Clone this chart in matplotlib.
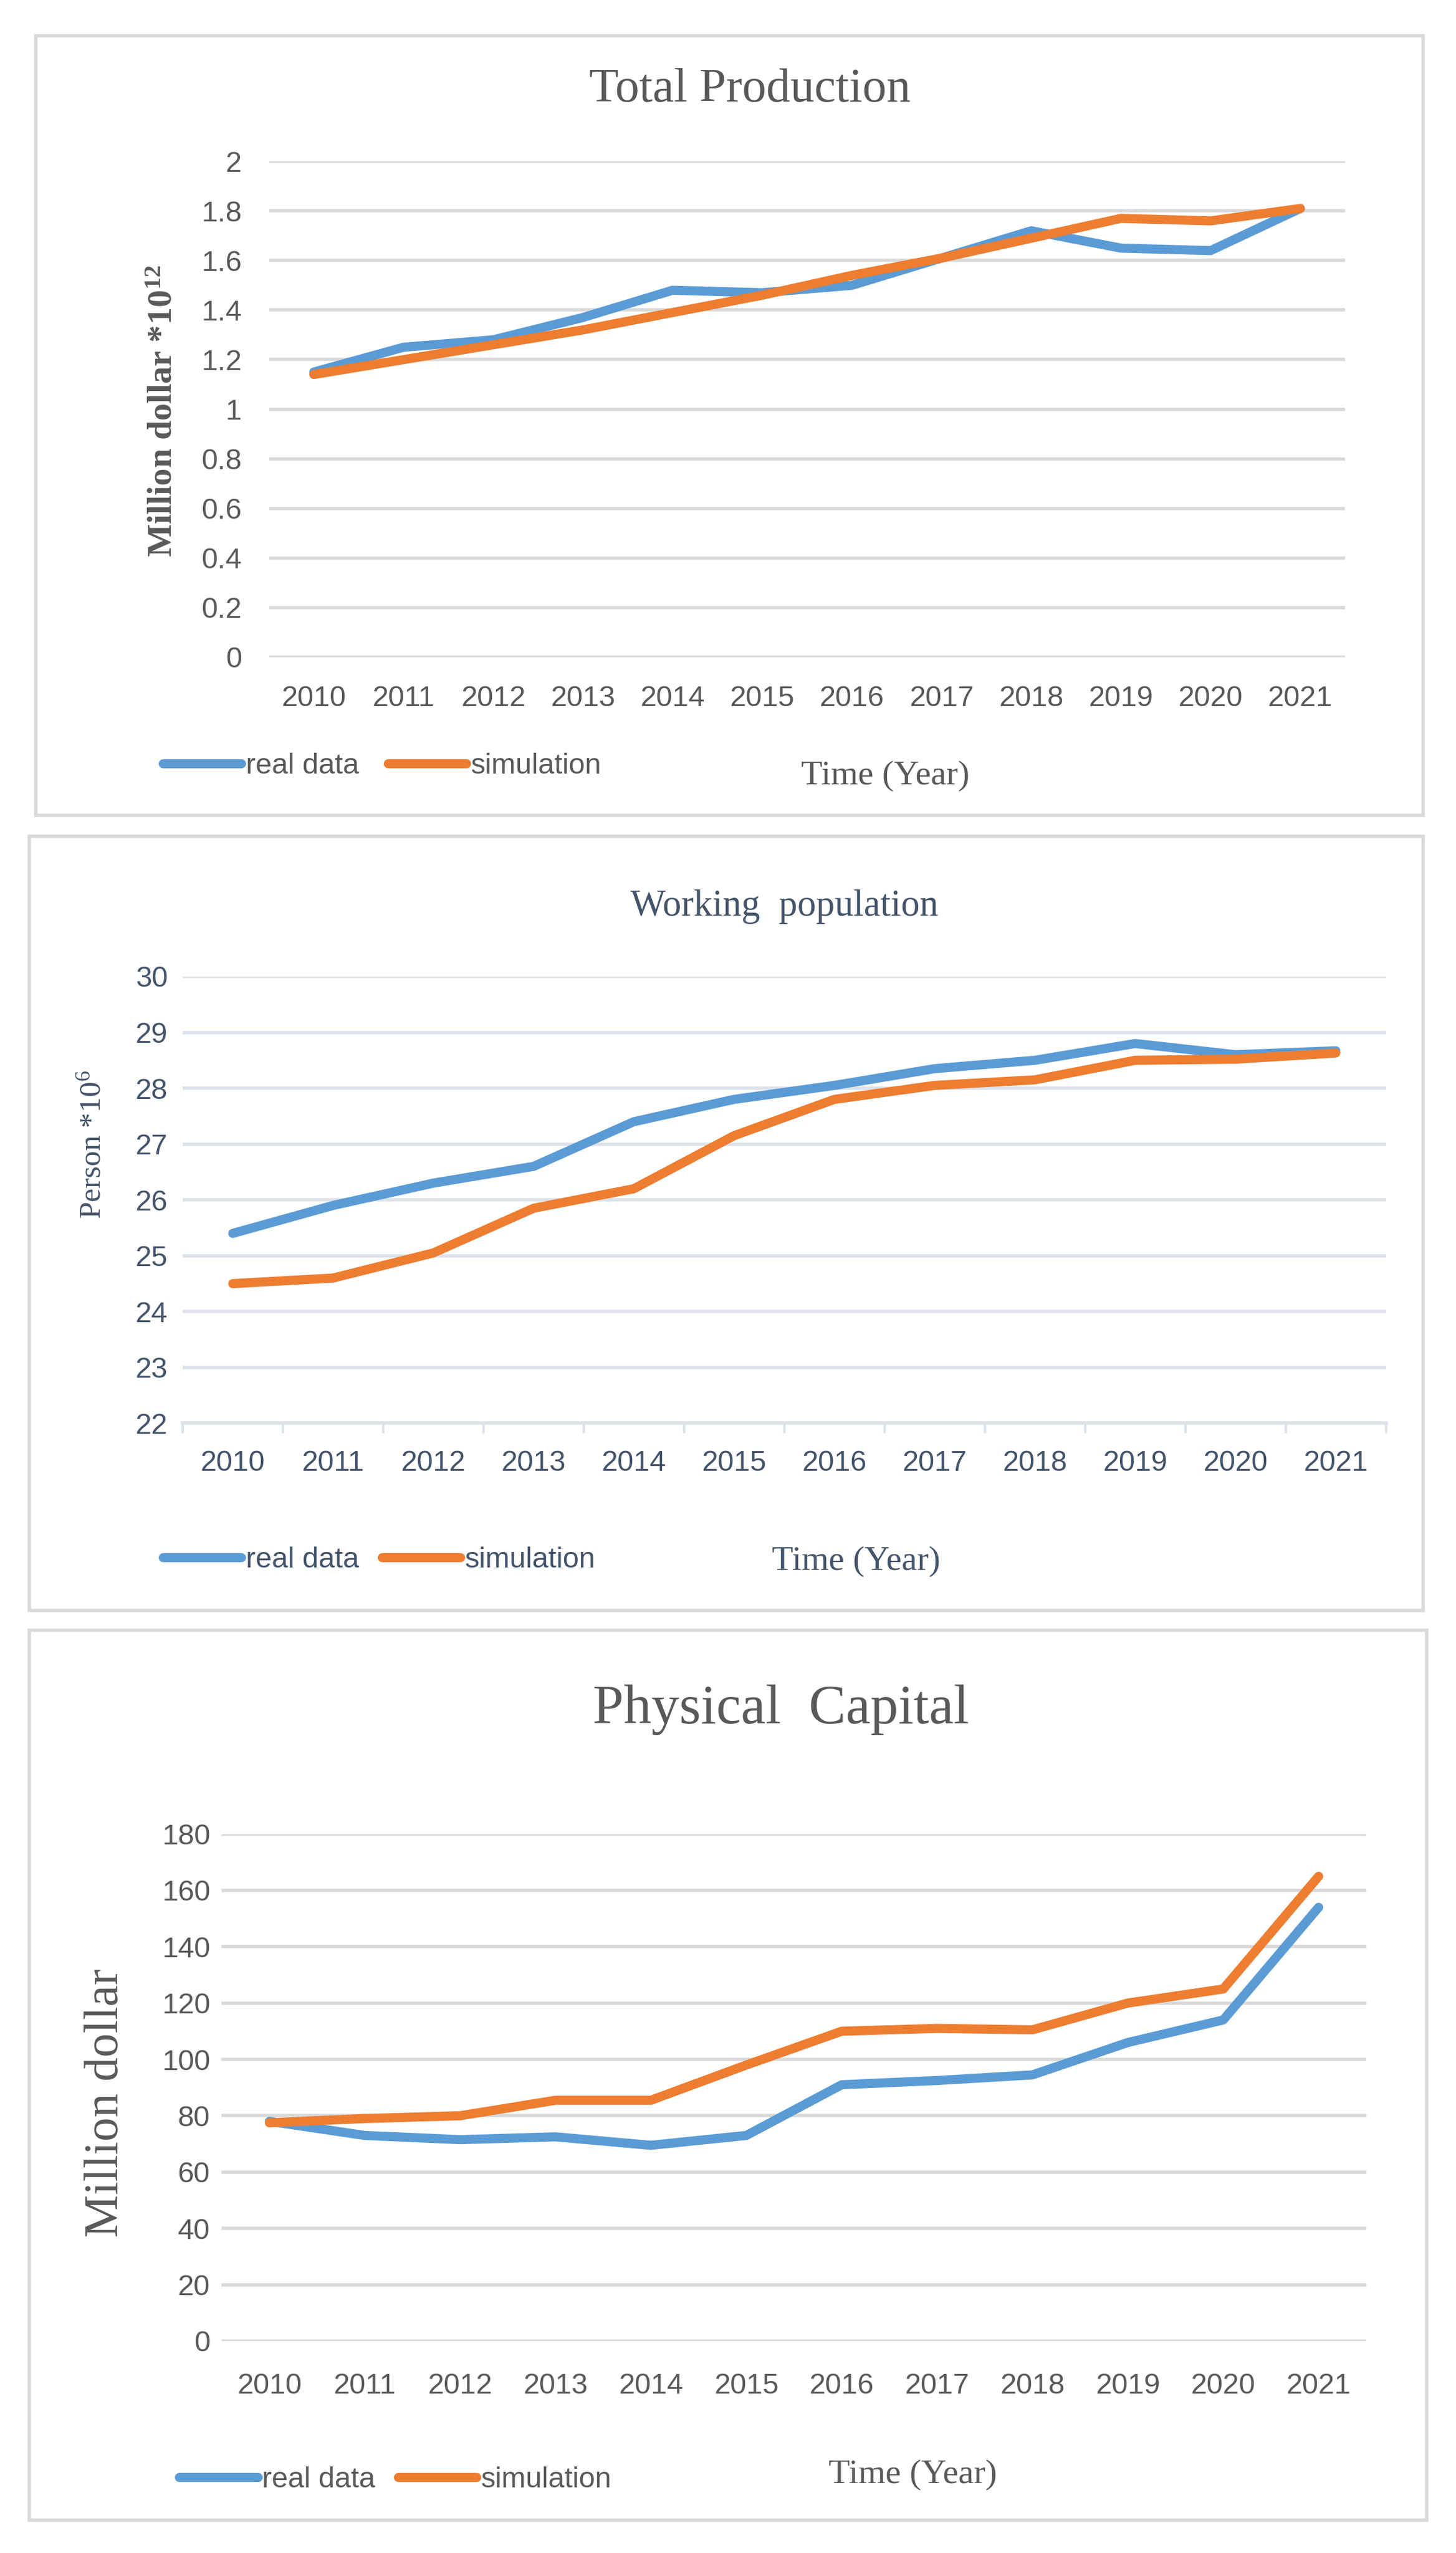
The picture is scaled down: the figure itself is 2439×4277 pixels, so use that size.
import numpy as np
import matplotlib
matplotlib.use('Agg')
from matplotlib import pyplot as plt
from matplotlib.patches import Rectangle

plt.rcParams['mathtext.default'] = 'regular'

years = ['2010', '2011', '2012', '2013', '2014', '2015', '2016', '2017', '2018', '2019', '2020', '2021']

# Total Production (Million dollar *10^12)
prod_real = [1.15, 1.25, 1.28, 1.37, 1.48, 1.47, 1.50, 1.61, 1.72, 1.65, 1.64, 1.81]
prod_sim = [1.14, 1.20, 1.26, 1.32, 1.39, 1.46, 1.54, 1.61, 1.69, 1.77, 1.76, 1.81]

# Working population (Person *10^6)
pop_real = [25.4, 25.9, 26.3, 26.6, 27.4, 27.8, 28.05, 28.35, 28.5, 28.8, 28.6, 28.67]
pop_sim = [24.5, 24.6, 25.05, 25.85, 26.2, 27.15, 27.8, 28.05, 28.15, 28.5, 28.52, 28.63]

# Physical Capital (Million dollar)
cap_real = [78, 73, 71.5, 72.5, 69.5, 73, 91, 92.5, 94.5, 106, 114, 154]
cap_sim = [77.5, 79, 80, 85.5, 85.5, 98, 110, 111, 110.5, 120, 125, 165]

BLUE = '#5B9BD5'
ORANGE = '#ED7D31'
SANS = ['Liberation Sans', 'DejaVu Sans']
SERIF = ['Liberation Serif', 'DejaVu Serif']

W, H = 893.0, 1566.0   # layout measured on a 893 px wide view of the picture
def fx(x):
    return x / W
def fy(y):
    return 1 - y / H

fig = plt.figure(figsize=(24.39, 42.77), dpi=100)


def panel(box, axbox, real, sim, ylim, yticks, title, tsize, ylabel, ysize, yweight,
          ylab_xy, tcolor, gridc, ypad, xpad, leg, colsp, time_xy, axis_ticks=False):
    # outer frame
    x0, y0, x1, y1 = box
    fig.patches.append(Rectangle((fx(x0), fy(y1)), fx(x1) - fx(x0), fy(y0) - fy(y1),
                                 transform=fig.transFigure, fill=False,
                                 edgecolor='#D9D9D9', lw=4))
    l, t, r, b = axbox
    ax = fig.add_axes([fx(l), fy(b), fx(r) - fx(l), fy(t) - fy(b)])
    x = np.arange(len(years))
    ln1, = ax.plot(x, real, color=BLUE, lw=11, solid_capstyle='round', solid_joinstyle='round', label='real data', zorder=3)
    ln2, = ax.plot(x, sim, color=ORANGE, lw=11, solid_capstyle='round', solid_joinstyle='round', label='simulation', zorder=4)
    ax.set_xlim(-0.5, len(years) - 0.5)
    ax.set_ylim(*ylim)
    ax.set_yticks(yticks)
    ax.set_yticklabels([('%g' % v) for v in yticks], family=SANS, fontsize=35, color=tcolor)
    ax.set_xticks(x)
    ax.set_xticklabels(years, family=SANS, fontsize=35, color=tcolor)
    ax.yaxis.grid(True, color=gridc, lw=4)
    ax.set_axisbelow(True)
    for s in ax.spines.values():
        s.set_visible(False)
    ax.tick_params(axis='y', length=0, pad=ypad)
    if axis_ticks:
        ax.spines['bottom'].set_visible(True)
        ax.spines['bottom'].set_color(gridc)
        ax.spines['bottom'].set_linewidth(4)
        ax.set_xticks(np.arange(-0.5, len(years), 1), minor=True)
        ax.tick_params(axis='x', which='minor', length=12, width=3, color=gridc)
        ax.tick_params(axis='x', which='major', length=12, pad=xpad, color='none')
    else:
        ax.tick_params(axis='x', length=0, pad=xpad)
    ax.set_facecolor('none')

    fig.text(fx(title[1]), fy(title[2]), title[0], ha='center', va='center',
             family=SERIF, fontsize=tsize, color=tcolor)
    fig.text(fx(ylab_xy[0]), fy(ylab_xy[1]), ylabel, rotation=90, ha='center', va='center',
             family=SERIF, fontsize=ysize, color=tcolor, weight=yweight)
    fig.text(fx(time_xy[0]), fy(time_xy[1]), 'Time (Year)', ha='center', va='center',
             family=SERIF, fontsize=42, color=tcolor)
    fig.legend(handles=[ln1, ln2], loc='center left', bbox_to_anchor=(fx(leg[0]), fy(leg[1])),
               ncol=2, frameon=False, prop={'family': SANS, 'size': 35}, labelcolor=tcolor,
               handlelength=2.7, handletextpad=0.15, columnspacing=colsp, borderpad=0, borderaxespad=0)
    return ax


panel((22, 22, 873, 500), (165, 99, 825, 403), prod_real, prod_sim, (0, 2),
      [0, 0.2, 0.4, 0.6, 0.8, 1, 1.2, 1.4, 1.6, 1.8, 2],
      ('Total Production', 460, 55), 58, r'Million dollar *10$^{12}$', 42, 'bold', (100, 252),
      '#595959', '#D9D9D9', 33, 34, (100, 470), 1.0, (543, 476))

panel((18, 513, 873, 988), (112, 599, 850, 873), pop_real, pop_sim, (22, 30),
      [22, 23, 24, 25, 26, 27, 28, 29, 30],
      ('Working  population', 481, 556), 45, r'Person *10$^{6}$', 37, 'normal', (57, 702),
      '#44546A', '#DDE2EA', 18, 20, (100, 957), 0.8, (525, 958), axis_ticks=True)

panel((18, 1000, 875, 1546), (136, 1125, 838, 1436), cap_real, cap_sim, (0, 180),
      [0, 20, 40, 60, 80, 100, 120, 140, 160, 180],
      ('Physical  Capital', 479, 1049), 67, 'Million dollar', 58, 'normal', (65, 1290),
      '#595959', '#D9D9D9', 14, 38, (110, 1521), 0.8, (560, 1518))

fig.savefig('out.png', dpi=100, facecolor='white')
